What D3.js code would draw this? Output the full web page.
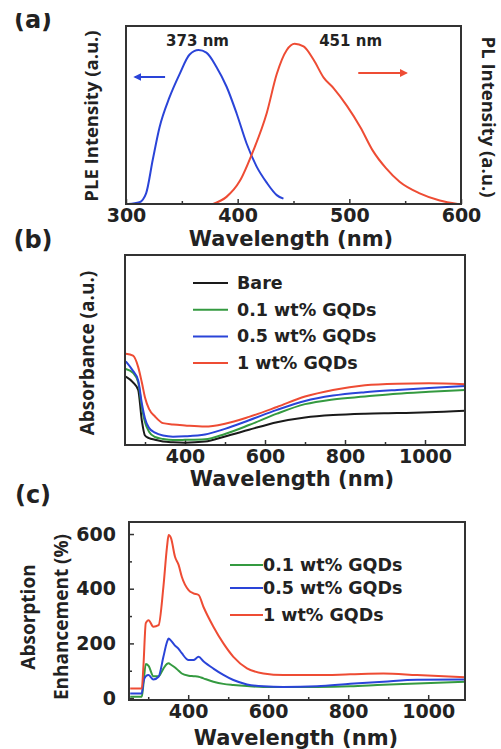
<!DOCTYPE html>
<html>
<head>
<meta charset="utf-8">
<script src="https://cdn.jsdelivr.net/npm/d3@7"></script>
<style>
  body { margin: 0; background: #fff; }
  text { font-family: "DejaVu Sans", sans-serif; font-weight: bold; fill: #222; }
  .ylab { font-family: "Open Sans", sans-serif; font-weight: bold; }
</style>
</head>
<body>
<div id="chart"></div>
<script>
// (a) PLE / PL spectra
var pleWl = [302, 312, 318, 324, 330, 339, 348, 357, 365, 372, 381, 390, 399, 408, 417, 426, 435, 441];
var pleVal = [0, 0.01, 0.06, 0.25, 0.43, 0.60, 0.73, 0.84, 0.865, 0.85, 0.77, 0.66, 0.51, 0.34, 0.21, 0.12, 0.05, 0.03];
var plWl = [378, 390, 402, 414, 426, 435, 444, 451, 459, 468, 477, 486, 498, 510, 521, 533, 545, 563, 581, 597];
var plVal = [0, 0.04, 0.13, 0.30, 0.51, 0.73, 0.865, 0.90, 0.885, 0.81, 0.71, 0.65, 0.55, 0.43, 0.30, 0.20, 0.125, 0.06, 0.02, 0];
var peakLabels = ["373 nm", "451 nm"];
var ticksA = [300, 400, 500, 600];
var minorA = [350, 450, 550];

// (b) absorbance
var absWl = [252, 270, 283, 292, 300, 310, 325, 345, 370, 400, 450, 500, 560, 630, 700, 770, 850, 930, 1010, 1100];
var absBare = [0.36, 0.33, 0.29, 0.13, 0.05, 0.036, 0.028, 0.018, 0.014, 0.012, 0.018, 0.045, 0.08, 0.12, 0.145, 0.158, 0.165, 0.168, 0.172, 0.18];
var abs01 = [0.40, 0.38, 0.33, 0.20, 0.12, 0.07, 0.042, 0.032, 0.026, 0.027, 0.03, 0.058, 0.105, 0.165, 0.215, 0.24, 0.255, 0.27, 0.28, 0.29];
var abs05 = [0.44, 0.39, 0.34, 0.22, 0.14, 0.09, 0.065, 0.05, 0.044, 0.046, 0.055, 0.085, 0.13, 0.185, 0.232, 0.26, 0.278, 0.29, 0.30, 0.31];
var abs1 = [0.48, 0.47, 0.41, 0.33, 0.25, 0.19, 0.15, 0.115, 0.108, 0.103, 0.097, 0.112, 0.148, 0.20, 0.255, 0.29, 0.315, 0.323, 0.325, 0.32];
var absNames = ["Bare", "0.1 wt% GQDs", "0.5 wt% GQDs", "1 wt% GQDs"];

// (c) absorption enhancement (%)
var enhWl = [255, 284, 288, 294, 301, 313, 326, 338, 347, 351, 357, 367, 376, 384, 401, 413, 426, 438, 463, 488, 513, 547, 588, 638, 722, 805, 888, 972, 1092];
var enh01 = [5, 5, 50, 125, 118, 80, 80, 108, 125, 127, 122, 112, 100, 90, 82, 80, 78, 72, 60, 52, 48, 44, 41, 41, 41, 43, 49, 53, 60];
var enh05 = [17, 17, 60, 80, 84, 68, 78, 151, 205, 218, 210, 192, 180, 164, 139, 139, 151, 135, 108, 85, 66, 50, 43, 41, 43, 52, 60, 67, 68];
var enh1 = [35, 35, 115, 274, 285, 261, 267, 407, 553, 596, 585, 517, 487, 444, 395, 383, 377, 334, 261, 200, 151, 109, 90, 84, 84, 87, 90, 84, 76];
var enhNames = ["0.1 wt% GQDs", "0.5 wt% GQDs", "1 wt% GQDs"];
var ticksBC = [400, 600, 800, 1000];
var minorBC = [300, 500, 700, 900];
var ticksCy = [0, 200, 400, 600];
var minorCy = [100, 300, 500];

var colors = {black: "#1a1a1a", green: "#349a40", blue: "#2a44d8", red: "#ee4c34"};

var W = 501, H = 749;
var svg = d3.select("#chart").append("svg").attr("width", W).attr("height", H);

function zip(xs, ys) { return xs.map((x, i) => [x, ys[i]]); }

// draw a framed panel with inward ticks on the bottom
function panel(box, xDom, yDom, major, minor) {
  var x = d3.scaleLinear().domain(xDom).range([box.x0, box.x1]);
  var y = d3.scaleLinear().domain(yDom).range([box.y1, box.y0]);
  var g = svg.append("g");
  g.append("g")
    .attr("transform", "translate(0," + box.y1 + ")")
    .call(d3.axisBottom(x).tickValues(minor).tickSize(-3).tickFormat(""))
    .call(a => a.select(".domain").remove());
  g.append("g")
    .attr("transform", "translate(0," + box.y1 + ")")
    .call(d3.axisBottom(x).tickValues(major).tickSize(-5).tickPadding(5).tickFormat(d3.format("d")))
    .call(a => a.select(".domain").remove())
    .selectAll("text").style("font-size", "19px").attr("fill", "#222");
  g.selectAll(".tick line").attr("stroke", "#333").attr("stroke-width", 1.5);
  g.append("rect")
    .attr("x", box.x0).attr("y", box.y0)
    .attr("width", box.x1 - box.x0).attr("height", box.y1 - box.y0)
    .attr("fill", "none").attr("stroke", "#333").attr("stroke-width", 2);
  return {x: x, y: y, g: g};
}

function curve(p, pts, color) {
  var line = d3.line().x(d => p.x(d[0])).y(d => p.y(d[1])).curve(d3.curveMonotoneX);
  p.g.insert("path", "rect").datum(pts)
    .attr("d", line).attr("fill", "none")
    .attr("stroke", color).attr("stroke-width", 2);
}

function label(txt, x, y, size, rot, cls, parent) {
  var t = (parent || svg).append("text").attr("text-anchor", "middle")
    .attr("transform", "translate(" + x + "," + y + ")" + (rot ? " rotate(" + rot + ")" : ""))
    .style("font-size", size + "px").text(txt);
  if (cls) t.attr("class", cls);
  return t;
}

var defs = svg.append("defs");
[["blue", colors.blue], ["red", colors.red]].forEach(function(c) {
  defs.append("marker").attr("id", "arr-" + c[0])
    .attr("viewBox", "0 0 10 10").attr("refX", 8).attr("refY", 5)
    .attr("markerWidth", 4).attr("markerHeight", 4).attr("orient", "auto")
    .append("path").attr("d", "M0,0 L10,5 L0,10 z").attr("fill", c[1]);
});
// the (a) tag is cut off at the top in the source figure
defs.append("clipPath").attr("id", "clipA")
  .append("rect").attr("x", 0).attr("y", 13).attr("width", 80).attr("height", 30);

// ---------- (a) ----------
var pa = panel({x0: 126, x1: 461, y0: 26, y1: 204}, [300, 600], [0, 1], ticksA, minorA);
curve(pa, zip(pleWl, pleVal), colors.blue);
curve(pa, zip(plWl, plVal), colors.red);
pa.g.append("text").attr("x", pa.x(373) - 10).attr("y", 46).attr("text-anchor", "middle")
  .style("font-size", "15px").text(peakLabels[0]);
pa.g.append("text").attr("x", pa.x(451) + 56).attr("y", 46).attr("text-anchor", "middle")
  .style("font-size", "15px").text(peakLabels[1]);
pa.g.append("line").attr("x1", pa.x(335)).attr("x2", pa.x(308)).attr("y1", 77).attr("y2", 77)
  .attr("stroke", colors.blue).attr("stroke-width", 2).attr("marker-end", "url(#arr-blue)");
pa.g.append("line").attr("x1", pa.x(508)).attr("x2", pa.x(551)).attr("y1", 73).attr("y2", 73)
  .attr("stroke", colors.red).attr("stroke-width", 2).attr("marker-end", "url(#arr-red)");
var tagA = svg.append("g").attr("clip-path", "url(#clipA)");
label("(a)", 33, 28, 24, 0, null, tagA);
label("PLE Intensity (a.u.)", 98, 116, 18.5, -90, "ylab");
label("PL Intensity (a.u.)", 482, 117, 18.5, 90, "ylab");
label("Wavelength (nm)", 291, 246, 21);

// ---------- (b) ----------
var pb = panel({x0: 125, x1: 465, y0: 255, y1: 445}, [250, 1100], [0, 1], ticksBC, minorBC);
var absSeries = [absBare, abs01, abs05, abs1];
var absColors = [colors.black, colors.green, colors.blue, colors.red];
absSeries.forEach(function(s, i) { curve(pb, zip(absWl, s), absColors[i]); });
absNames.forEach(function(n, i) {
  var yy = 283 + i * 26.7;
  pb.g.append("line").attr("x1", 193).attr("x2", 228).attr("y1", yy).attr("y2", yy)
    .attr("stroke", absColors[i]).attr("stroke-width", 2);
  pb.g.append("text").attr("x", 237).attr("y", yy + 6).style("font-size", "17.5px").text(n);
});
label("(b)", 33, 248, 24);
label("Absorbance (a.u.)", 94, 353, 19, -90, "ylab");
label("Wavelength (nm)", 292, 486, 21);

// ---------- (c) ----------
var pc = panel({x0: 129, x1: 465, y0: 522, y1: 700}, [252, 1092], [-7, 644], ticksBC, minorBC);
pc.g.append("g").attr("transform", "translate(129,0)")
  .call(d3.axisLeft(pc.y).tickValues(minorCy).tickSize(-3).tickFormat(""))
  .call(a => a.select(".domain").remove());
pc.g.append("g").attr("transform", "translate(129,0)")
  .call(d3.axisLeft(pc.y).tickValues(ticksCy).tickSize(-5).tickPadding(13).tickFormat(d3.format("d")))
  .call(a => a.select(".domain").remove())
  .selectAll("text").style("font-size", "19px").attr("fill", "#222");
pc.g.selectAll(".tick line").attr("stroke", "#333").attr("stroke-width", 1.5);
var enhSeries = [enh01, enh05, enh1];
var enhColors = [colors.green, colors.blue, colors.red];
enhSeries.forEach(function(s, i) { curve(pc, zip(enhWl, s), enhColors[i]); });
enhNames.forEach(function(n, i) {
  var yy = [565, 588, 615][i];
  pc.g.append("line").attr("x1", 230).attr("x2", 263).attr("y1", yy).attr("y2", yy)
    .attr("stroke", enhColors[i]).attr("stroke-width", 2);
  pc.g.append("text").attr("x", 263).attr("y", yy + 6).style("font-size", "17.5px").text(n);
});
label("(c)", 33, 503, 24);
label("Absorption", 35, 617, 19, -90, "ylab");
label("Enhancement (%)", 68, 617, 19, -90, "ylab");
label("Wavelength (nm)", 296, 745, 21);
</script>
</body>
</html>
